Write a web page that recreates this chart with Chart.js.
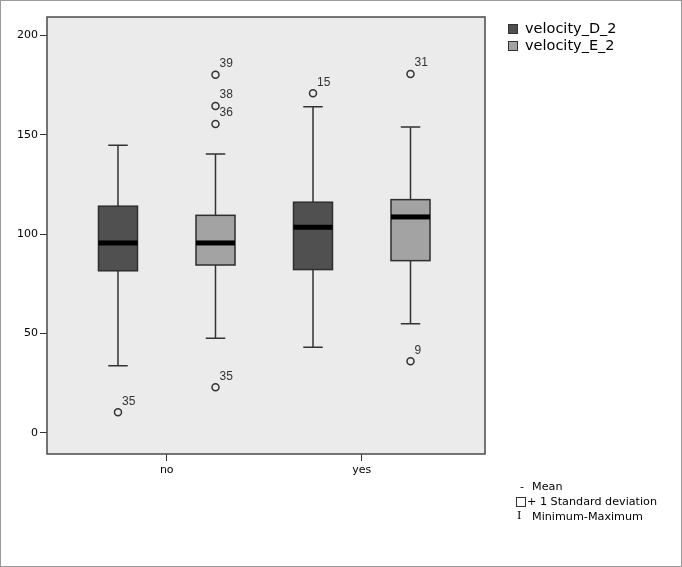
<!DOCTYPE html>
<html>
<head>
<meta charset="utf-8">
<script src="https://cdn.jsdelivr.net/npm/chart.js@4.4.1/dist/chart.umd.min.js"></script>
<style>
  body { margin: 0; background: #fff; font-family: 'DejaVu Sans', sans-serif; }
  #wrap { position: relative; width: 682px; height: 567px; }
  #frame { position: absolute; left: 0; top: 0; width: 682px; height: 567px; box-sizing: border-box; border: 1px solid #9a9a9a; pointer-events: none; }
  .lg { position: absolute; white-space: nowrap; color: #000; }
  .top { font-size: 14.5px; line-height: 18px; }
  .bot { font-size: 11.2px; line-height: 14px; }
  .sw { position: absolute; width: 8px; height: 8px; border: 1px solid #333; }
</style>
</head>
<body>
<div id="wrap">
  <canvas id="chart" width="682" height="567"></canvas>
  <div class="sw" style="left:508px;top:24px;background:#505050"></div>
  <div class="lg top" style="left:525px;top:19px">velocity_D_2</div>
  <div class="sw" style="left:508px;top:41px;background:#a3a3a3"></div>
  <div class="lg top" style="left:525px;top:36px">velocity_E_2</div>

  <div class="lg bot" style="left:520px;top:480px">-</div>
  <div class="lg bot" style="left:532px;top:480px">Mean</div>
  <div class="sw" style="left:516px;top:497px;background:#fff"></div>
  <div class="lg bot" style="left:527px;top:495px">+ 1 Standard deviation</div>
  <div class="lg bot" style="left:517px;top:509px;font-family:'DejaVu Serif',serif">I</div>
  <div class="lg bot" style="left:532px;top:510px">Minimum-Maximum</div>
  <div id="frame"></div>
</div>
<script>
// groups on the x axis and the two series
const groups = ['no', 'yes'];
const seriesNames = ['velocity_D_2', 'velocity_E_2'];

// velocity_D_2 box stats per group
const dMin = [33.8, 43.1];
const dQ1 = [81.6, 82.2];
const dMed = [95.6, 103.5];
const dQ3 = [114.1, 116.1];
const dMax = [144.8, 164.1];
const dOutVals = [[10.4], [170.9]];
const dOutIds = [['35'], ['15']];

// velocity_E_2 box stats per group
const eMin = [47.7, 54.9];
const eQ1 = [84.5, 86.7];
const eMed = [95.6, 108.7];
const eQ3 = [109.5, 117.4];
const eMax = [140.3, 154.0];
const eOutVals = [[180.2, 164.5, 155.4, 23.0], [180.6, 36.1]];
const eOutIds = [['39', '38', '36', '35'], ['31', '9']];

const yTicks = [0, 50, 100, 150, 200];

const series = [
    { off: -0.25, fill: '#505050', min: dMin, q1: dQ1, med: dMed, q3: dQ3, max: dMax },
    { off: 0.25, fill: '#a3a3a3', min: eMin, q1: eQ1, med: eMed, q3: eQ3, max: eMax }
];

function outlierPoints(vals, ids, off) {
    const pts = [];
    vals.forEach((arr, gi) => {
        arr.forEach((v, k) => pts.push({ x: gi + off, y: v, id: ids[gi][k] }));
    });
    return pts;
}

const boxPlugin = {
    id: 'boxes',
    beforeDraw(chart) {
        const { ctx, chartArea: a } = chart;
        ctx.save();
        ctx.fillStyle = '#fff';
        ctx.fillRect(0, 0, chart.width, chart.height);
        ctx.fillStyle = '#ebebeb';
        ctx.fillRect(a.left, a.top, a.right - a.left, a.bottom - a.top);
        ctx.restore();
    },
    beforeDatasetsDraw(chart) {
        const { ctx } = chart;
        const xs = chart.scales.x, ys = chart.scales.y;
        ctx.save();
        series.forEach(s => {
            groups.forEach((g, i) => {
                const cx = xs.getPixelForValue(i + s.off);
                const half = (xs.getPixelForValue(i + s.off + 0.1) - xs.getPixelForValue(i + s.off - 0.1)) / 2;
                const cap = half / 2;
                const yMin = ys.getPixelForValue(s.min[i]);
                const yMax = ys.getPixelForValue(s.max[i]);
                const yQ1 = ys.getPixelForValue(s.q1[i]);
                const yQ3 = ys.getPixelForValue(s.q3[i]);
                const yMed = ys.getPixelForValue(s.med[i]);
                ctx.strokeStyle = '#333';
                ctx.lineWidth = 1.5;
                // whiskers
                ctx.beginPath();
                ctx.moveTo(cx, yMax); ctx.lineTo(cx, yQ3);
                ctx.moveTo(cx, yQ1); ctx.lineTo(cx, yMin);
                ctx.moveTo(cx - cap, yMax); ctx.lineTo(cx + cap, yMax);
                ctx.moveTo(cx - cap, yMin); ctx.lineTo(cx + cap, yMin);
                ctx.stroke();
                // box
                ctx.fillStyle = s.fill;
                ctx.fillRect(cx - half, yQ3, half * 2, yQ1 - yQ3);
                ctx.strokeStyle = '#2e2e2e';
                ctx.strokeRect(cx - half, yQ3, half * 2, yQ1 - yQ3);
                // median
                ctx.fillStyle = '#000';
                ctx.fillRect(cx - half, yMed - 2.5, half * 2, 5);
            });
        });
        ctx.restore();
    },
    afterDatasetsDraw(chart) {
        const { ctx } = chart;
        ctx.save();
        ctx.font = "12px 'Liberation Sans', Arial, sans-serif";
        ctx.fillStyle = '#333';
        ctx.textBaseline = 'middle';
        chart.data.datasets.forEach((ds, di) => {
            chart.getDatasetMeta(di).data.forEach((pt, k) => {
                ctx.fillText(ds.data[k].id, pt.x + 4, pt.y - 11);
            });
        });
        ctx.restore();
    },
    afterDraw(chart) {
        const { ctx, chartArea: a } = chart;
        ctx.save();
        ctx.strokeStyle = '#4a4a4a';
        ctx.lineWidth = 1.5;
        ctx.strokeRect(a.left, a.top, a.right - a.left, a.bottom - a.top);
        ctx.restore();
    }
};

const tickFont = { family: "'DejaVu Sans', sans-serif", size: 11 };

new Chart(document.getElementById('chart'), {
    type: 'scatter',
    data: {
        datasets: series.map((s, si) => ({
            label: seriesNames[si],
            data: si === 0 ? outlierPoints(dOutVals, dOutIds, s.off) : outlierPoints(eOutVals, eOutIds, s.off),
            pointStyle: 'circle',
            pointRadius: 3.5,
            pointBorderWidth: 1.5,
            pointBorderColor: '#333',
            pointBackgroundColor: '#ebebeb'
        }))
    },
    options: {
        responsive: false,
        animation: false,
        layout: { padding: { left: 0, top: 17, right: 197, bottom: 0 } },
        plugins: { legend: { display: false }, tooltip: { enabled: false } },
        scales: {
            x: {
                type: 'linear',
                min: -0.614,
                max: 1.632,
                afterBuildTicks(scale) { scale.ticks = groups.map((g, i) => ({ value: i })); },
                afterFit(scale) { scale.height = 113; },
                border: { display: false },
                grid: { drawOnChartArea: false, drawTicks: true, tickLength: 7, color: '#333' },
                ticks: {
                    autoSkip: false,
                    maxRotation: 0,
                    padding: 3,
                    color: '#000',
                    font: tickFont,
                    callback: v => groups[v] !== undefined ? groups[v] : ''
                }
            },
            y: {
                min: -10.6,
                max: 209.3,
                afterBuildTicks(scale) { scale.ticks = yTicks.map(v => ({ value: v })); },
                afterFit(scale) { scale.width = 47; },
                border: { display: false },
                grid: { drawOnChartArea: false, drawTicks: true, tickLength: 7, color: '#333' },
                ticks: { padding: 2, color: '#000', font: tickFont }
            }
        }
    },
    plugins: [boxPlugin]
});
</script>
</body>
</html>
